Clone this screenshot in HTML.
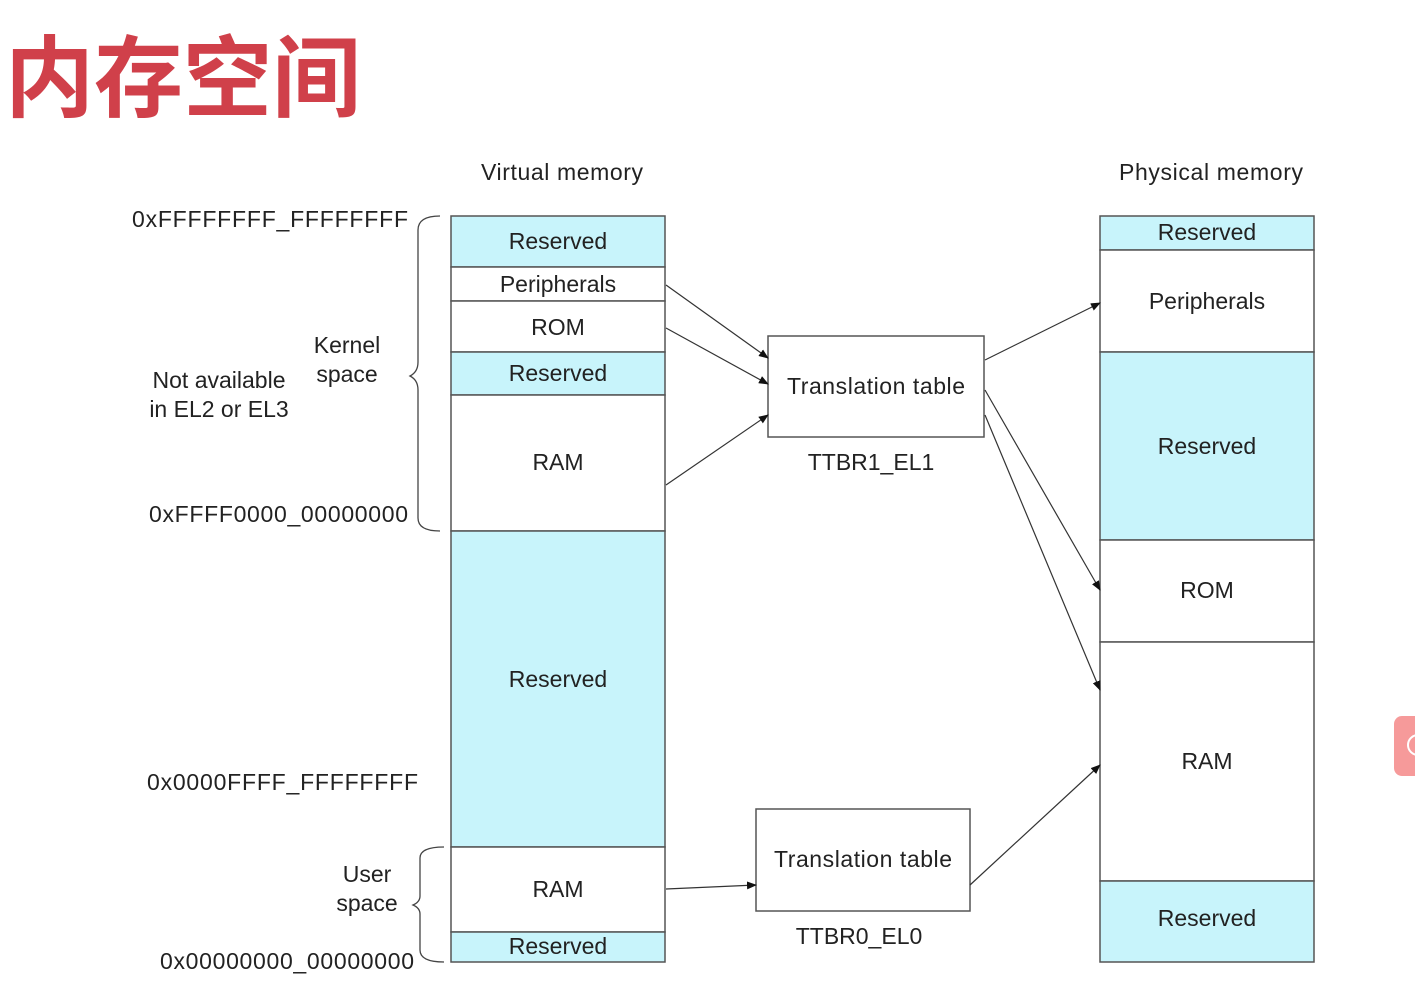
<!DOCTYPE html>
<html><head><meta charset="utf-8"><style>
html,body{margin:0;padding:0;background:#fff;width:1415px;height:988px;overflow:hidden}
svg text{font-family:"Liberation Sans",sans-serif;fill:#222}
</style></head><body>
<svg width="1415" height="988" viewBox="0 0 1415 988" xmlns="http://www.w3.org/2000/svg">
<defs><marker id="a" markerWidth="10" markerHeight="8" refX="9" refY="4" orient="auto" markerUnits="userSpaceOnUse"><path d="M0,0L10,4L0,8z" fill="#111"/></marker></defs>
<text x="5" y="110" font-size="89" font-weight="bold" style="font-family:'Noto Sans CJK SC',sans-serif;fill:#d0404a">内存空间</text>
<g font-size="23" text-anchor="middle">
<text x="562" y="180" textLength="162">Virtual memory</text>
<text x="1211" y="180" textLength="184">Physical memory</text>
</g>
<g stroke="#555" stroke-width="1.5">
<rect x="451" y="216" width="214" height="51" fill="#c8f4fb"/>
<rect x="451" y="267" width="214" height="34" fill="#fff"/>
<rect x="451" y="301" width="214" height="51" fill="#fff"/>
<rect x="451" y="352" width="214" height="43" fill="#c8f4fb"/>
<rect x="451" y="395" width="214" height="136" fill="#fff"/>
<rect x="451" y="531" width="214" height="316" fill="#c8f4fb"/>
<rect x="451" y="847" width="214" height="85" fill="#fff"/>
<rect x="451" y="932" width="214" height="30" fill="#c8f4fb"/>
<rect x="1100" y="216" width="214" height="34" fill="#c8f4fb"/>
<rect x="1100" y="250" width="214" height="102" fill="#fff"/>
<rect x="1100" y="352" width="214" height="188" fill="#c8f4fb"/>
<rect x="1100" y="540" width="214" height="102" fill="#fff"/>
<rect x="1100" y="642" width="214" height="239" fill="#fff"/>
<rect x="1100" y="881" width="214" height="81" fill="#c8f4fb"/>
<rect x="768" y="336" width="216" height="101" fill="#fff"/>
<rect x="756" y="809" width="214" height="102" fill="#fff"/>
</g>
<g font-size="23" text-anchor="middle">
<text x="558" y="249">Reserved</text>
<text x="558" y="292">Peripherals</text>
<text x="558" y="335">ROM</text>
<text x="558" y="381">Reserved</text>
<text x="558" y="470">RAM</text>
<text x="558" y="687">Reserved</text>
<text x="558" y="897">RAM</text>
<text x="558" y="954">Reserved</text>
<text x="1207" y="240">Reserved</text>
<text x="1207" y="309">Peripherals</text>
<text x="1207" y="454">Reserved</text>
<text x="1207" y="598">ROM</text>
<text x="1207" y="769">RAM</text>
<text x="1207" y="926">Reserved</text>
<text x="876" y="394" textLength="178">Translation table</text>
<text x="863" y="867" textLength="178">Translation table</text>
<text x="871" y="470">TTBR1_EL1</text>
<text x="859" y="944">TTBR0_EL0</text>
<text x="347" y="353">Kernel</text>
<text x="347" y="382">space</text>
<text x="219" y="388">Not available</text>
<text x="219" y="417">in EL2 or EL3</text>
<text x="367" y="882">User</text>
<text x="367" y="911">space</text>
</g>
<g font-size="23">
<text x="132" y="227" textLength="276">0xFFFFFFFF_FFFFFFFF</text>
<text x="149" y="522" textLength="259">0xFFFF0000_00000000</text>
<text x="147" y="790" textLength="271">0x0000FFFF_FFFFFFFF</text>
<text x="160" y="969" textLength="254">0x00000000_00000000</text>
</g>
<g stroke="#444" stroke-width="1.3" fill="none">
<path d="M440,216 Q418,216 418,230 L418,362 Q418,372 410,376 Q418,380 418,390 L418,518 Q418,531 440,531"/>
<path d="M444,847 Q420,847 420,858 L420,896 Q420,902 413,905 Q420,908 420,914 L420,950 Q420,962 444,962"/>
</g>
<g stroke="#333" stroke-width="1.2" marker-end="url(#a)">
<line x1="666" y1="285" x2="768" y2="358"/>
<line x1="666" y1="328" x2="768" y2="384"/>
<line x1="666" y1="485" x2="768" y2="415"/>
<line x1="985" y1="360" x2="1100" y2="303"/>
<line x1="985" y1="390" x2="1100" y2="590"/>
<line x1="985" y1="415" x2="1100" y2="690"/>
<line x1="666" y1="889" x2="756" y2="885"/>
<line x1="970" y1="885" x2="1100" y2="765"/>
</g>
<rect x="1394" y="716" width="40" height="60" rx="8" fill="#f69a9a"/>
<circle cx="1418" cy="745" r="10" fill="none" stroke="#fff" stroke-width="2"/>
</svg>
</body></html>
